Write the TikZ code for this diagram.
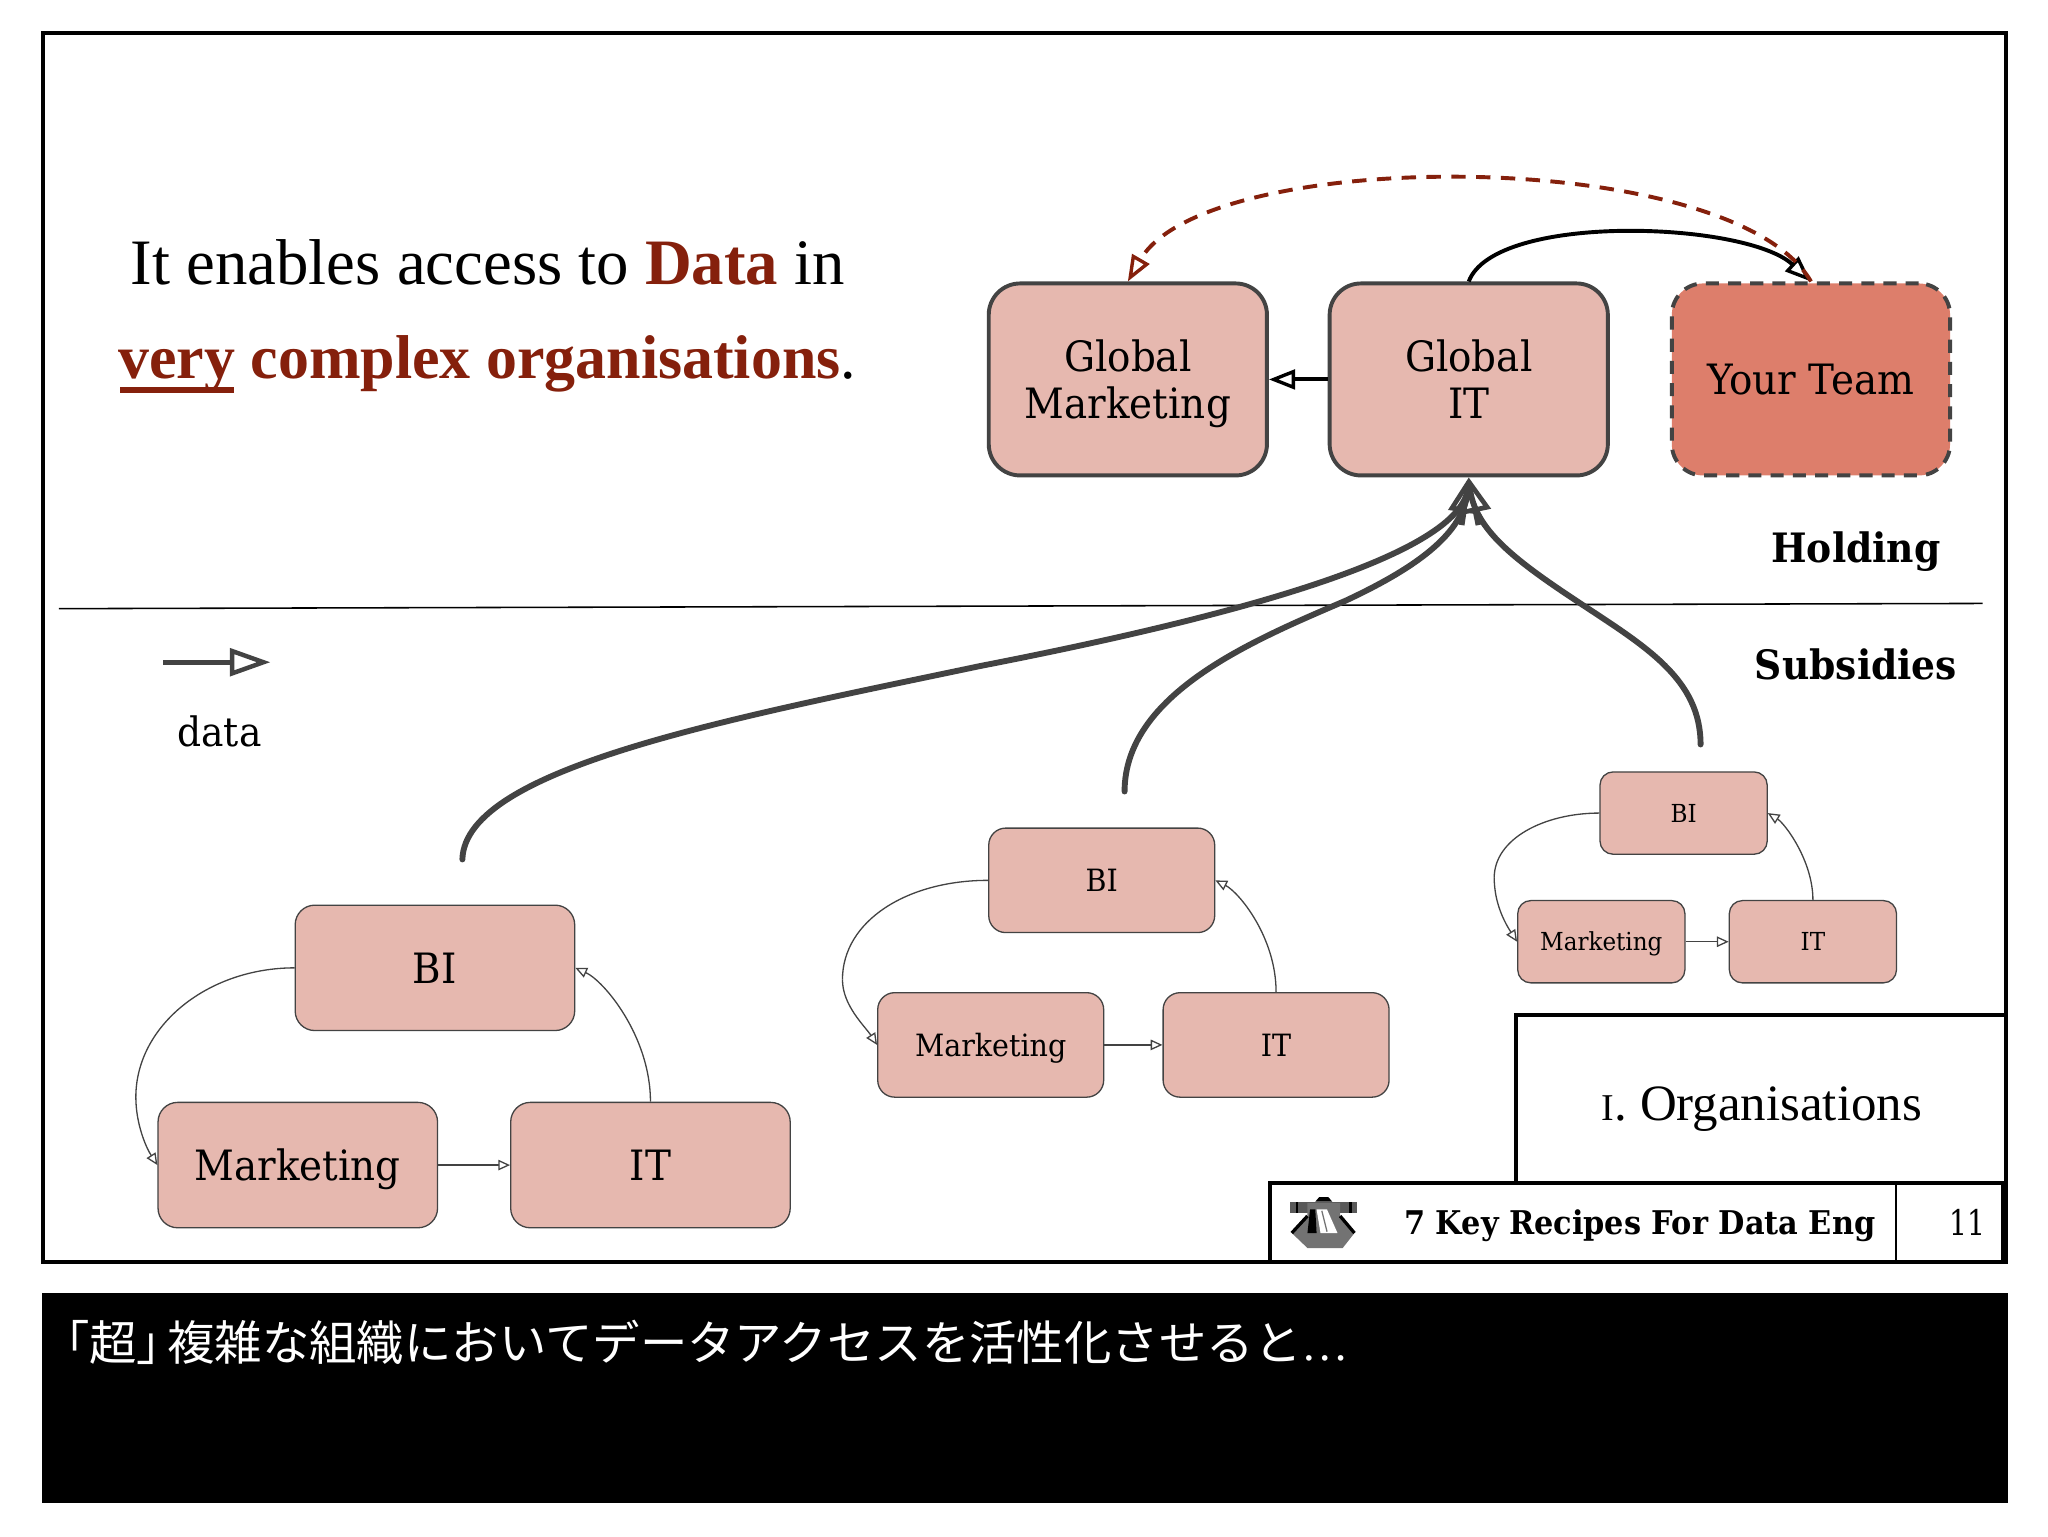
\documentclass[tikz,border=0pt]{standalone}
\usepackage{fontspec}
\setmainfont{Liberation Serif}
\newfontfamily\slab[FakeStretch=0.93]{DejaVu Serif}
\newfontfamily\slabn[FakeStretch=0.8]{DejaVu Serif}
\newfontfamily\cjk{Noto Sans CJK JP}
\usetikzlibrary{arrows.meta}
\definecolor{boxfill}{HTML}{E6B8AF}
\definecolor{teamfill}{HTML}{DD7E6B}
\definecolor{ink}{HTML}{434343}
\definecolor{darkred}{HTML}{85200C}
\newcommand{\fsz}[1]{\fontsize{#1}{#1}\selectfont}
\newcommand{\bl}[1]{\vphantom{M}\smash{#1}}
\tikzset{
  x=1pt,y=-1pt,
  bigbox/.style={draw=ink,line width=3pt,fill=boxfill,rounded corners=24pt,minimum width=213pt,minimum height=147pt,inner sep=0pt,align=center,font=\slab\fsz{32},text=black},
  teambox/.style={bigbox,fill=teamfill,dashed,dash pattern=on 10pt off 7pt},
  orgbox/.style={draw=ink,line width=1pt,fill=boxfill,inner sep=0pt,text depth=0pt,text=black},
  orgA/.style={orgbox,rounded corners=15pt,minimum width=214pt,minimum height=96pt,font=\slab\fsz{32},text height=23.5pt},
  orgB/.style={orgbox,rounded corners=13pt,minimum width=173pt,minimum height=80pt,font=\slab\fsz{23.5},text height=17.2pt},
  orgC/.style={orgbox,rounded corners=10pt,minimum width=128pt,minimum height=63pt,font=\slab\fsz{19},text height=13.9pt},
  tinyline/.style={draw=ink,line width=1pt},
  tinyarrow/.style={tinyline,-{Triangle[open,fill=white,length=9pt,width=8pt]}},
  flowline/.style={draw=ink,line width=4.5pt,line cap=round},
  flowarrow/.style={draw=ink,line width=4.5pt,-{Triangle[fill=white,length=27pt,width=23pt,line width=3.6pt]}},
  legendarrow/.style={draw=ink,line width=4pt,-{Triangle[fill=white,length=31pt,width=21pt,line width=3.4pt]}},
  toparrow/.style={line width=3pt,-{Triangle[fill=white,length=20pt,width=15pt,line width=2.6pt]}},
  framebox/.style={draw=black,line width=3pt,fill=white},
  plain/.style={inner sep=0pt},
  headline/.style={plain,anchor=base},
  tag/.style={plain,font=\slab\bfseries\fsz{31},text=black,text height=22.6pt,text depth=0pt},
}
\begin{document}
\begin{tikzpicture}
\useasboundingbox (0,0) rectangle (1568,1176);
\fill[white] (0,0) rectangle (1568,1176);
\fill[black] (32,990) rectangle (1537,1151);
\draw[black,line width=3pt] (33,25) rectangle (1536,966);

% divider
\coordinate (divL) at (45,466);
\coordinate (divR) at (1518,462);
\draw[black,line width=1.2pt] (divL) -- (divR);

% headline
\node[headline,font=\fsz{49.6}] (h1) at (373.5,218) {It enables access to \textcolor{darkred}{\textbf{Data}} in};
\node[headline,font=\fsz{47.4},text=darkred] (h2) at (373,290) {\textbf{very complex organisations}\textcolor{black}{.}};
\fill[darkred] (92,296.5) rectangle (179,300.5);

% top boxes
\node[bigbox] (gm) at (863.5,290.5) {\bl{Global}\\[4pt]\bl{Marketing}};
\node[bigbox] (git) at (1124.5,290.5) {\bl{Global}\\[4pt]\bl{IT}};
\node[teambox] (team) at (1386.5,290.5) {\bl{Your Team}};

\draw[toparrow] (git.west) -- (gm.east);
\draw[toparrow,black] (git.north) .. controls +(20,-53) and +(-50,-46) .. (team.north);
\draw[toparrow,darkred,dashed,dash pattern=on 11pt off 8pt] (team.north) .. controls +(-60,-104) and +(60,-104) .. (gm.north);

% organisation A
\node[orgA] (biA) at (333,741) {BI};
\node[orgA] (mkA) at (228,892) {Marketing};
\node[orgA] (itA) at (498,892) {IT};
\coordinate (lA) at (104,840);
\draw[tinyline] (biA.west) .. controls +(-66,0) and +(0,-55) .. (lA);
\draw[tinyarrow] (lA) .. controls +(0,20) and +(-9,-14) .. (mkA.west);
\draw[tinyarrow] (itA.north) .. controls +(0,-50) and +(22,10) .. (biA.east);
\draw[tinyarrow] (mkA.east) -- (itA.west);

% organisation B
\node[orgB] (biB) at (843.5,674) {BI};
\node[orgB] (mkB) at (758.5,800) {Marketing};
\node[orgB] (itB) at (977,800) {IT};
\coordinate (lB) at (645,750);
\draw[tinyline] (biB.west) .. controls +(-62,0) and +(0,-45) .. (lB);
\draw[tinyarrow] (lB) .. controls +(0,20) and +(-9,-14) .. (mkB.west);
\draw[tinyarrow] (itB.north) .. controls +(0,-42) and +(18,9) .. (biB.east);
\draw[tinyarrow] (mkB.east) -- (itB.west);

% organisation C
\node[orgC] (biC) at (1289,622.5) {BI};
\node[orgC] (mkC) at (1226,721) {Marketing};
\node[orgC] (itC) at (1388,721) {IT};
\coordinate (lC) at (1144,672);
\draw[tinyline] (biC.west) .. controls +(-42,0) and +(0,-30) .. (lC);
\draw[tinyarrow] (lC) .. controls +(0,20) and +(-9,-14) .. (mkC.west);
\draw[tinyarrow] (itC.north) .. controls +(0,-30) and +(13,8) .. (biC.east);
\draw[tinyarrow] (mkC.east) -- (itC.west);

% flows to global IT
\coordinate (fA) at (354,658);
\coordinate (fB) at (861,606);
\coordinate (fC) at (1302,570);
\coordinate (wA) at (750,510);
\coordinate (wB) at (1030,460);
\coordinate (wC) at (1210,462);
\coordinate (hA) at (1119,402);
\coordinate (hC) at (1132,402);
\draw[flowarrow] (hA) -- (git.south);
\draw[flowarrow] (hC) -- (git.south);
\draw[flowline,shorten >=7pt] (fA) .. controls +(2,-70) and +(-190,40) .. (wA) .. controls +(190,-37) and +(-4,60) .. (git.south);
\draw[flowline,shorten >=7pt] (fB) .. controls +(0,-75) and +(-70,30) .. (wB) .. controls +(60,-28) and +(-2,40) .. (git.south);
\draw[flowline,shorten >=7pt] (fC) .. controls +(0,-50) and +(50,33) .. (wC) .. controls +(-50,-33) and +(4,40) .. (git.south);

% labels
\node[tag] (hold) at (1421,419) {Holding};
\node[tag] (subs) at (1421,509) {Subsidies};

% legend
\coordinate (legA) at (125,507);
\coordinate (legB) at (207,507);
\draw[legendarrow] (legA) -- (legB);
\node[plain,font=\slab\fsz{31}] (legT) at (168,560) {data};

% footer
\draw[framebox] (1161,777) rectangle (1536,906);
\draw[framebox] (972,906) rectangle (1536,966);
\draw[black,line width=2pt] (1451.5,906) -- (1451.5,966);
\draw[black,line width=2pt] (1533,906) -- (1533,966);
\node[plain,font=\fsz{39},anchor=base] (sect) at (1349,858) {{\fsz{29}I}. Organisations};
\node[plain,font=\slab\bfseries\fsz{25},text height=18.2pt,text depth=0pt] (foot) at (1255.5,936) {7 Key Recipes For Data Eng};
\node[plain,font=\slabn\fsz{27},anchor=east,text height=19.7pt,text depth=0pt] (page) at (1520,936) {11};

% logo
\fill[black] (1007,920) -- (1010,916.5) -- (1017,916.5) -- (1020,920) -- cycle;
\fill[black!65] (988,920) rectangle (1039,929);
\fill[black] (992,920) rectangle (994,929);
\fill[black] (1033,920) rectangle (1035,929);
\fill[black!55] (1001,921) -- (1026,921) -- (1026,931) -- (1037,944) -- (1028,955.5) -- (1001,955.5) -- (989,944) -- (1001,931) -- cycle;
\draw[black,line width=2.5pt] (1001,931) -- (989,944);
\draw[black,line width=2.5pt] (1026,931) -- (1037,944);
\fill[white] (1008,926) -- (1016,926) -- (1024,944) -- (1011,944) -- cycle;
\fill[black] (1003,926) -- (1007,926) -- (1008,944) -- (1001,944) -- cycle;
\draw[black!55,line width=1pt] (1012,927) -- (1016,943);

% caption
\node[plain,anchor=west,text=white,font=\cjk\fsz{36.3}] (cap) at (32,1028) {「超」\hspace{-13pt}複雑な組織においてデータアクセスを活性化させると{\rmfamily …}};
\end{tikzpicture}
\end{document}
